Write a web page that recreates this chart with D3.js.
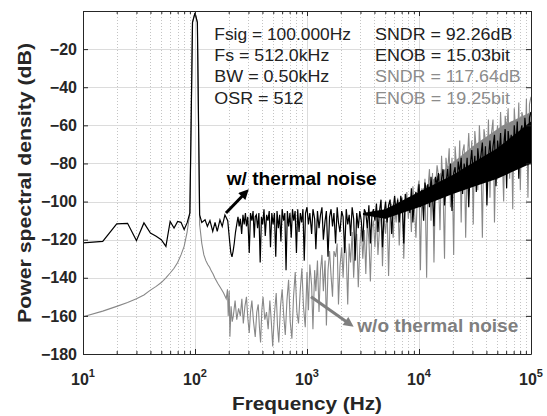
<!DOCTYPE html>
<html>
<head>
<meta charset="utf-8">
<title>PSD</title>
<style>
  body { margin: 0; background: #fff; }
  text { font-family: "Liberation Sans", Arial, sans-serif; }
  .grid-major { stroke: #dcdcdc; stroke-width: 1; }
  .grid-minor { stroke: #c4c4c4; stroke-width: 1; stroke-dasharray: 1,2; }
</style>
<script src="https://cdn.jsdelivr.net/npm/d3@7"></script>
</head>
<body>
<div id="chart"></div>
<script>
// ---- data ----
var xExp   = [1, 2, 3, 4, 5];
var yTicks = [-180, -160, -140, -120, -100, -80, -60, -40, -20];

// w/ thermal noise, 10 Hz .. 1 kHz
var blackF = [10,15,20,25,30,35,40,45,50,55,60,65,70,75,80,85,90,95,100,105,
  110,115,123,129,136,144,151,158,167,175,185,196,
  204,209,214,219,224,230,236,242,248,254,261,268,275,282,288,296,305,313,322,330,
  338,345,353,362,372,382,392,402,413,424,436,448,460,472,485,498,512,526,540,555,
  570,585,600,617,634,650,668,686,704,723,742,762,783,805,826,849,872,895,920,945,970];
var blackDb = [-121.7,-120.9,-111.7,-111.4,-120.5,-111.2,-116.5,-118.2,-120,-123.5,
  -110.4,-113.9,-110.4,-110.9,-114.7,-111.2,-106,-6,-1,-6,
  -107,-111,-109.6,-113,-110,-115.6,-111,-115.6,-109.6,-113,-107,-110,
  -121,-127,-129,-126,-122,-116,-112,-108,-113,-109,-117,-107,-112,-106,-113,-108,-127,-106,-110,-105,
  -119,-108,-107,-114,-106,-132,-108,-112,-104,-118,-107,-110,-105,-124,-106,-112,-106,-129,-105,-114,
  -107,-121,-104,-110,-106,-136,-105,-113,-106,-119,-104,-110,-105,-127,-104,-116,-106,-111,-104,-131,-106];

// w/o thermal noise, 10 Hz .. 1 kHz
var greyF = [10,15,20,25,30,35,40,45,50,55,60,65,70,75,80,85,90,95,100,105,
  110,115,120,125,130,135,140,145,150,160,170,180,190,
  195,198,202,205,210,215,220,228,236,245,254,262,270,279,288,296,305,313,322,333,
  345,356,367,376,385,395,405,420,435,450,466,480,494,512,531,545,560,580,600,620,
  640,662,685,708,733,758,785,812,840,870,900,930,965];
var greyDb = [-160.5,-157.5,-155,-153,-151,-149,-146.5,-144.5,-142.5,-140,
  -137.5,-135,-132,-128,-123.5,-116,-106,-6,-1,-6,
  -112,-122,-128,-131,-133,-134.5,-136.5,-138,-140,-143,-145.5,-148,-151,
  -146,-160,-147,-171,-155,-163,-160,-152,-162,-156,-160,-151,-164,-155,-150,-161,-169,-158,-152,-163,
  -171,-158,-154,-166,-174,-157,-150,-162,-158,-167,-152,-163,-176,-159,-148,-165,-174,-155,-146,-160,
  -170,-152,-141,-163,-172,-150,-137,-158,-164,-147,-135,-155,-166];

// 1 kHz .. 100 kHz, shared frequency grid
var hfF = [1000,1030,1060,1100,1130,1170,1200,1240,1280,1320,
  1360,1400,1450,1490,1540,1590,1640,1690,1740,1800,
  1860,1910,1970,2040,2100,2170,2240,2310,2380,2450,
  2530,2610,2690,2780,2870,2960,3050,3150,3250,3350,
  3460,3570,3680,3800,3920,4040,4170,4300,4440,4580,
  4720,4870,5030,5190,5350,5520,5700,5880,6060,6250,
  6450,6660,6870,7090,7310,7540,7780,8030,8290,8550,
  8820,9100,9390,9690,
  10000,10300,10600,11000,11300,11700,12000,12400,12800,13200,
  13600,14000,14500,14900,15400,15900,16400,16900,17400,18000,
  18600,19100,19700,20400,21000,21700,22400,23100,23800,24500,
  25300,26100,26900,27800,28700,29600,30500,31500,32500,33500,
  34600,35700,36800,38000,39200,40400,41700,43000,44400,45800,
  47200,48700,50300,51900,53500,55200,57000,58800,60600,62500,
  64500,66600,68700,70900,73100,75400,77800,80300,82900,85500,
  88200,91000,93900,96900,
  100000];
var blackHf = [-103,-112,-106,-117,-104,-109,-125,-105,-114,-107,
  -103,-120,-110,-105,-129,-108,-104,-113,-106,-122,
  -103,-111,-116,-105,-108,-127,-104,-112,-107,-118,
  -103,-109,-131,-106,-114,-105,-110,-121,-104,-106,
  -114,-102,-122,-107,-104,-110,-101,-116,-105,-99,
  -124,-107,-100,-111,-102,-99,-117,-104,-97,-106,
  -99,-111,-97,-101,-122,-96,-102,-98,-106,-93,
  -111,-98,-95,-101,
  -91,-103,-94,-110,-90,-96,-91,-103,-87,-96,
  -113,-87,-91,-85,-98,-88,-83,-102,-91,-83,
  -93,-80,-105,-85,-82,-95,-79,-85,-77,-96,
  -80,-87,-77,-103,-81,-73,-87,-76,-95,-72,
  -81,-76,-69,-88,-71,-102,-77,-68,-81,-71,
  -65,-92,-68,-76,-64,-82,-71,-62,-93,-63,
  -71,-65,-82,-60,-72,-58,-88,-64,-60,-75,
  -56,-65,-81,-56,
  -53];
var greyHf = [-137,-157,-133,-144,-167,-136,-147,-131,-158,-136,
  -128,-147,-131,-165,-136,-126,-139,-150,-126,-129,
  -122,-154,-134,-124,-140,-120,-127,-154,-122,-132,
  -116,-140,-122,-117,-145,-124,-113,-130,-115,-138,
  -110,-120,-142,-114,-110,-124,-107,-128,-114,-104,
  -134,-108,-117,-104,-139,-108,-101,-119,-103,-111,
  -98,-123,-103,-98,-130,-105,-95,-109,-98,-116,
  -92,-103,-119,-94,
  -89,-136,-93,-102,-88,-140,-94,-83,-110,-85,
  -132,-94,-81,-86,-115,-76,-93,-130,-77,-85,
  -72,-103,-77,-128,-71,-83,-92,-68,-111,-74,
  -70,-119,-80,-64,-85,-68,-112,-63,-73,-94,
  -60,-77,-119,-62,-68,-83,-57,-98,-64,-57,
  -111,-68,-60,-83,-53,-72,-100,-55,-63,-51,
  -88,-58,-104,-51,-65,-72,-48,-94,-53,-57,
  -79,-46,-98,-49,
  -45];

// dense noise core (envelopes)
var blackBandF   = [3160, 5000, 10000, 20000, 31600, 50000, 100000];
var blackBandTop = [-106, -104, -95, -86, -79, -72, -58];
var blackBandLow = [-107, -109, -103, -96, -92, -88, -80];
var greyBandF    = [10000, 17800, 31600, 56200, 100000];
var greyBandTop  = [-95, -82, -70, -60, -53];
var greyBandLow  = [-100, -90, -82, -72, -64];

var legendLeft  = ["Fsig = 100.000Hz", "Fs = 512.0kHz", "BW = 0.50kHz", "OSR = 512"];
var legendRight = ["SNDR = 92.26dB", "ENOB = 15.03bit", "SNDR = 117.64dB", "ENOB = 19.25bit"];

var blackArrow = [[189, -106], [285, -95.1]];
var greyArrow  = [[1086, -150], [2440, -164.5]];

// ---- layout ----
var width = 547, height = 416;
var plotL = 83, plotR = 531, plotT = 11, plotB = 354;
var axisColor = "#262626", greyColor = "#888";

var x = d3.scaleLog().domain([10, 1e5]).range([plotL, plotR]);
var y = d3.scaleLinear().domain([-180, 0]).range([plotB, plotT]);

var svg = d3.select("#chart").append("svg")
  .attr("width", width)
  .attr("height", height);

svg.append("rect").attr("width", width).attr("height", height).attr("fill", "#fff");

var defs = svg.append("defs");
defs.append("clipPath").attr("id", "clip")
  .append("rect").attr("x", plotL).attr("y", plotT)
  .attr("width", plotR - plotL).attr("height", plotB - plotT);

// grid
var minorX = [];
[10, 100, 1000, 10000].forEach(function(d) {
  for (var k = 2; k <= 9; k++) minorX.push(d * k);
});
var xMajor = xExp.map(function(e) { return Math.pow(10, e); });

var grid = svg.append("g");
grid.selectAll(".gmin").data(minorX).enter().append("line")
  .attr("class", "grid-minor")
  .attr("x1", function(d) { return Math.round(x(d)) + 0.5; })
  .attr("x2", function(d) { return Math.round(x(d)) + 0.5; })
  .attr("y1", plotT).attr("y2", plotB);
grid.selectAll(".gmx").data(xMajor).enter().append("line")
  .attr("class", "grid-major")
  .attr("x1", function(d) { return Math.round(x(d)) + 0.5; })
  .attr("x2", function(d) { return Math.round(x(d)) + 0.5; })
  .attr("y1", plotT).attr("y2", plotB);
grid.selectAll(".gmy").data(yTicks).enter().append("line")
  .attr("class", "grid-major")
  .attr("x1", plotL).attr("x2", plotR)
  .attr("y1", function(d) { return Math.round(y(d)) + 0.5; })
  .attr("y2", function(d) { return Math.round(y(d)) + 0.5; });

// series
function pairs(fs, vs) { return fs.map(function(f, i) { return [f, vs[i]]; }); }
var line = d3.line().x(function(d) { return x(d[0]); }).y(function(d) { return y(d[1]); });
var band = d3.area()
  .x(function(d) { return x(d[0]); })
  .y0(function(d) { return y(d[2]); })
  .y1(function(d) { return y(d[1]); });

var plot = svg.append("g").attr("clip-path", "url(#clip)");

var greyBand = greyBandF.map(function(f, i) { return [f, greyBandTop[i], greyBandLow[i]]; });
var blackBand = blackBandF.map(function(f, i) { return [f, blackBandTop[i], blackBandLow[i]]; });

plot.append("path").datum(greyBand).attr("d", band).attr("fill", greyColor);
plot.append("path")
  .datum(pairs(greyF, greyDb).concat(pairs(hfF, greyHf)))
  .attr("d", line).attr("fill", "none")
  .attr("stroke", greyColor).attr("stroke-width", 1.1);

plot.append("path").datum(blackBand).attr("d", band).attr("fill", "#000");
plot.append("path")
  .datum(pairs(blackF, blackDb).concat(pairs(hfF, blackHf)))
  .attr("d", line).attr("fill", "none")
  .attr("stroke", "#000").attr("stroke-width", 1.2);

// axes
function styleAxis(g) {
  g.selectAll("path, line").attr("stroke", axisColor);
  g.attr("font-size", null).attr("font-family", null);
}
svg.append("g").attr("transform", "translate(0," + plotB + ")")
  .call(d3.axisBottom(x).tickValues(xMajor).tickSizeInner(-5).tickSizeOuter(0).tickFormat(""))
  .call(styleAxis);
svg.append("g").attr("transform", "translate(0," + plotB + ")")
  .call(d3.axisBottom(x).tickValues(minorX).tickSizeInner(-3).tickSizeOuter(0).tickFormat(""))
  .call(styleAxis).call(function(g) { g.select(".domain").remove(); });
svg.append("g").attr("transform", "translate(0," + plotT + ")")
  .call(d3.axisTop(x).tickValues(xMajor).tickSizeInner(-5).tickSizeOuter(0).tickFormat(""))
  .call(styleAxis);
svg.append("g").attr("transform", "translate(0," + plotT + ")")
  .call(d3.axisTop(x).tickValues(minorX).tickSizeInner(-3).tickSizeOuter(0).tickFormat(""))
  .call(styleAxis).call(function(g) { g.select(".domain").remove(); });

var yAxis = svg.append("g").attr("transform", "translate(" + plotL + ",0)")
  .call(d3.axisLeft(y).tickValues(yTicks).tickSizeInner(-5).tickSizeOuter(0).tickPadding(6)
    .tickFormat(function(d) { return "\u2212" + Math.abs(d); }))
  .call(styleAxis);
yAxis.selectAll("text")
  .attr("fill", axisColor)
  .attr("font-size", "16px")
  .attr("font-weight", "bold");
svg.append("g").attr("transform", "translate(" + plotR + ",0)")
  .call(d3.axisRight(y).tickValues(yTicks).tickSizeInner(-5).tickSizeOuter(0).tickFormat(""))
  .call(styleAxis);

// x tick labels 10^n
var xl = svg.selectAll(".xlab").data(xExp).enter().append("text")
  .attr("x", function(d) { return x(Math.pow(10, d)); })
  .attr("y", 385)
  .attr("text-anchor", "middle")
  .attr("fill", axisColor)
  .attr("font-weight", "bold")
  .attr("font-size", "16px");
xl.append("tspan").text("10");
xl.append("tspan").attr("dy", -8).attr("font-size", "11px").text(function(d) { return d; });

// axis titles
svg.append("text")
  .attr("transform", "translate(31," + ((plotT + plotB) / 2 + 0.5) + ") rotate(-90)")
  .attr("text-anchor", "middle")
  .attr("font-weight", "bold").attr("font-size", "19px")
  .attr("fill", axisColor)
  .attr("textLength", 280).attr("lengthAdjust", "spacingAndGlyphs")
  .text("Power spectral density (dB)");
svg.append("text")
  .attr("x", (plotL + plotR) / 2).attr("y", 410)
  .attr("text-anchor", "middle")
  .attr("font-weight", "bold").attr("font-size", "19px")
  .attr("fill", axisColor)
  .attr("textLength", 150).attr("lengthAdjust", "spacingAndGlyphs")
  .text("Frequency (Hz)");

// metrics text
var baseY = [39.5, 60.8, 82.2, 103.5];
var leftW = [136.7, 115, 115, 89];
var rightW = [137.3, 135, 145.7, 135];
svg.selectAll(".legL").data(legendLeft).enter().append("text")
  .attr("x", 214.3).attr("y", function(d, i) { return baseY[i]; })
  .attr("font-size", "16px").attr("fill", "#222")
  .attr("textLength", function(d, i) { return leftW[i]; })
  .attr("lengthAdjust", "spacingAndGlyphs")
  .text(function(d) { return d; });
svg.selectAll(".legR").data(legendRight).enter().append("text")
  .attr("x", 375).attr("y", function(d, i) { return baseY[i]; })
  .attr("font-size", "16px")
  .attr("fill", function(d, i) { return i < 2 ? "#222" : "#8c8c8c"; })
  .attr("textLength", function(d, i) { return rightW[i]; })
  .attr("lengthAdjust", "spacingAndGlyphs")
  .text(function(d) { return d; });

// annotations
function marker(id, color) {
  defs.append("marker").attr("id", id)
    .attr("viewBox", "0 0 10 10").attr("refX", 6).attr("refY", 5)
    .attr("markerUnits", "userSpaceOnUse")
    .attr("markerWidth", 11).attr("markerHeight", 10)
    .attr("orient", "auto")
    .append("path").attr("d", "M0,0L10,5L0,10Z").attr("fill", color);
}
marker("ahB", "#000");
marker("ahG", "#7f7f7f");

svg.append("path").datum(blackArrow).attr("d", line)
  .attr("stroke", "#000").attr("stroke-width", 3).attr("fill", "none")
  .attr("marker-end", "url(#ahB)");
svg.append("path").datum(greyArrow).attr("d", line)
  .attr("stroke", "#7f7f7f").attr("stroke-width", 3).attr("fill", "none")
  .attr("marker-end", "url(#ahG)");

svg.append("text")
  .attr("x", 226.7).attr("y", 185)
  .attr("font-weight", "bold").attr("font-size", "18px").attr("fill", "#000")
  .attr("textLength", 150).attr("lengthAdjust", "spacingAndGlyphs")
  .text("w/ thermal noise");
svg.append("text")
  .attr("x", 357.3).attr("y", 331.7)
  .attr("font-weight", "bold").attr("font-size", "18px").attr("fill", "#7f7f7f")
  .attr("textLength", 161).attr("lengthAdjust", "spacingAndGlyphs")
  .text("w/o thermal noise");
</script>
</body>
</html>
